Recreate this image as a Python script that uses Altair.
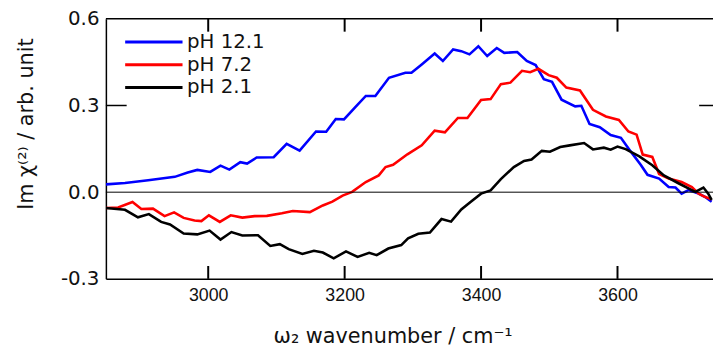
import altair as alt
import pandas as pd

# ---- data ----
wn_ph121 = [2850, 2878, 2912, 2951, 2970, 2984, 3003, 3018, 3031, 3047, 3057, 3071, 3096, 3115,
            3134, 3158, 3173, 3187, 3199, 3216, 3231, 3245, 3265, 3289, 3298, 3313, 3332, 3344,
            3359, 3371, 3383, 3396, 3409, 3423, 3434, 3453, 3467, 3480, 3492, 3504, 3518, 3538,
            3547, 3559, 3574, 3590, 3605, 3619, 3634, 3644, 3661, 3675, 3685, 3694, 3704, 3719,
            3728, 3738]
im_ph121 = [0.027, 0.032, 0.041, 0.053, 0.068, 0.077, 0.070, 0.092, 0.078, 0.104, 0.099, 0.120,
            0.121, 0.167, 0.144, 0.210, 0.209, 0.253, 0.252, 0.295, 0.333, 0.333, 0.396, 0.413,
            0.413, 0.442, 0.480, 0.454, 0.494, 0.488, 0.477, 0.505, 0.471, 0.499, 0.482, 0.485,
            0.454, 0.440, 0.391, 0.382, 0.320, 0.297, 0.299, 0.236, 0.225, 0.198, 0.188, 0.142,
            0.095, 0.060, 0.047, 0.018, 0.016, -0.005, 0.007, -0.005, -0.016, -0.033]

wn_ph72 = [2850, 2868, 2889, 2902, 2919, 2936, 2950, 2964, 2980, 2990, 3001, 3017, 3033, 3050,
           3068, 3086, 3108, 3124, 3149, 3168, 3182, 3197, 3211, 3231, 3250, 3260, 3271, 3292,
           3313, 3332, 3347, 3366, 3380, 3400, 3414, 3429, 3443, 3460, 3472, 3484, 3499, 3511,
           3525, 3545, 3564, 3583, 3602, 3616, 3628, 3637, 3651, 3661, 3675, 3694, 3709, 3719,
           3728, 3738]
im_ph72 = [-0.055, -0.053, -0.034, -0.058, -0.057, -0.083, -0.070, -0.089, -0.098, -0.100,
           -0.080, -0.103, -0.080, -0.088, -0.083, -0.082, -0.073, -0.065, -0.069, -0.046,
           -0.033, -0.012, 0.001, 0.035, 0.058, 0.087, 0.095, 0.131, 0.162, 0.213, 0.207,
           0.257, 0.257, 0.319, 0.322, 0.374, 0.379, 0.420, 0.415, 0.427, 0.405, 0.396, 0.362,
           0.352, 0.285, 0.262, 0.250, 0.210, 0.199, 0.130, 0.122, 0.063, 0.047, 0.035, 0.018,
           -0.005, -0.016, -0.025]

wn_ph21 = [2850, 2878, 2897, 2913, 2931, 2944, 2964, 2984, 3002, 3018, 3034, 3050, 3073, 3091,
           3105, 3118, 3138, 3155, 3168, 3184, 3202, 3219, 3236, 3247, 3264, 3283, 3293, 3308,
           3325, 3342, 3356, 3371, 3385, 3400, 3414, 3429, 3448, 3463, 3474, 3489, 3501, 3516,
           3530, 3551, 3564, 3580, 3590, 3600, 3612, 3632, 3651, 3668, 3690, 3704, 3714, 3726,
           3733, 3738]
im_ph21 = [-0.055, -0.061, -0.087, -0.076, -0.103, -0.112, -0.143, -0.146, -0.133, -0.164,
           -0.138, -0.150, -0.149, -0.186, -0.180, -0.197, -0.214, -0.203, -0.209, -0.229,
           -0.205, -0.224, -0.210, -0.218, -0.195, -0.183, -0.160, -0.144, -0.140, -0.093,
           -0.102, -0.060, -0.033, -0.005, 0.006, 0.045, 0.087, 0.108, 0.113, 0.143, 0.140,
           0.156, 0.162, 0.170, 0.148, 0.154, 0.147, 0.158, 0.149, 0.124, 0.093, 0.058, 0.030,
           0.013, 0.001, 0.016, -0.005, -0.027]

series_names = ["pH 12.1", "pH 7.2", "pH 2.1"]
series_colors = ["#0000ff", "#ff0000", "#000000"]
x_ticks = [3000, 3200, 3400, 3600]
y_ticks = [-0.3, 0.0, 0.3, 0.6]
x_domain = [2850, 3740]
y_domain = [-0.3, 0.6]

W, H = 614, 263

rows = []
for name, xs, ys in zip(series_names, [wn_ph121, wn_ph72, wn_ph21], [im_ph121, im_ph72, im_ph21]):
    for i, (a, b) in enumerate(zip(xs, ys)):
        rows.append({"wn": a, "im": b, "series": name, "k": i})
df = pd.DataFrame(rows)

xscale = alt.Scale(domain=x_domain, nice=False, zero=False)
yscale = alt.Scale(domain=y_domain, nice=False, zero=False)

lines = alt.Chart(df).mark_line(strokeWidth=2.6, clip=True).encode(
    x=alt.X("wn:Q", scale=xscale, axis=alt.Axis(
        values=x_ticks, format="d", grid=False, ticks=False, tickSize=0,
        domain=True, domainColor="#000", domainWidth=1.5,
        labelFont="Liberation Sans", labelFontSize=18, labelColor="#111", labelPadding=8,
        title="ω₂ wavenumber / cm⁻¹", titleFont="DejaVu Sans", titleFontSize=21,
        titleFontWeight="normal", titleColor="#111", titleX=290, titleY=64,
        titleBaseline="alphabetic", titleAlign="center")),
    y=alt.Y("im:Q", scale=yscale, axis=alt.Axis(
        values=y_ticks, grid=False, ticks=False, tickSize=0,
        labelExpr="datum.value < 0 ? '-' + format(-datum.value, '.1f') : format(datum.value, '.1f')",
        domain=True, domainColor="#000", domainWidth=1.5,
        labelFont="DejaVu Sans", labelFontSize=20, labelColor="#111", labelPadding=7,
        title="Im χ⁽²⁾ / arb. unit", titleFont="DejaVu Sans", titleFontSize=21,
        titleFontWeight="normal", titleColor="#111", titleX=-74, titleY=106,
        titleAngle=270, titleBaseline="alphabetic", titleAlign="center")),
    color=alt.Color("series:N", scale=alt.Scale(domain=series_names, range=series_colors),
                    legend=alt.Legend(orient="none", legendX=18, legendY=12, title=None,
                                      symbolType="stroke", symbolSize=3364, symbolStrokeWidth=3,
                                      labelFont="DejaVu Sans", labelFontSize=20, labelColor="#111",
                                      labelOffset=3, clipHeight=23, rowPadding=0, padding=0)),
    order="k:Q",
)

zero = alt.Chart(pd.DataFrame({"y": [0.0]})).mark_rule(color="#000", strokeWidth=1).encode(
    y=alt.Y("y:Q", scale=yscale))

top = alt.Chart(pd.DataFrame({"x": [x_domain[0]], "x2": [x_domain[1]], "y": [y_domain[1]]})).mark_rule(
    color="#000", strokeWidth=1.5).encode(x=alt.X("x:Q", scale=xscale), x2="x2:Q",
                                          y=alt.Y("y:Q", scale=yscale))

xt = pd.DataFrame({"xt": x_ticks})
ticks_top = alt.Chart(xt).mark_rule(color="#000", strokeWidth=2).encode(
    x=alt.X("xt:Q", scale=xscale), y=alt.value(0), y2=alt.value(13))
ticks_bot = alt.Chart(xt).mark_rule(color="#000", strokeWidth=2).encode(
    x=alt.X("xt:Q", scale=xscale), y=alt.value(H - 13), y2=alt.value(H))

yt = pd.DataFrame({"yt": [0.3]})
ticks_left = alt.Chart(yt).mark_rule(color="#000", strokeWidth=1.5).encode(
    y=alt.Y("yt:Q", scale=yscale), x=alt.value(0), x2=alt.value(21))
ticks_right = alt.Chart(yt).mark_rule(color="#000", strokeWidth=1.5).encode(
    y=alt.Y("yt:Q", scale=yscale), x=alt.value(W - 14), x2=alt.value(W))

chart = alt.layer(lines, zero, top, ticks_top, ticks_bot, ticks_left, ticks_right).properties(
    width=W, height=H,
    autosize=alt.AutoSizeParams(type="none"),
    padding={"left": 99, "top": 9, "right": 0, "bottom": 68},
    background="white",
).configure_view(stroke=None)

chart.save("out.html", embed_options={"renderer": "svg", "actions": False})
